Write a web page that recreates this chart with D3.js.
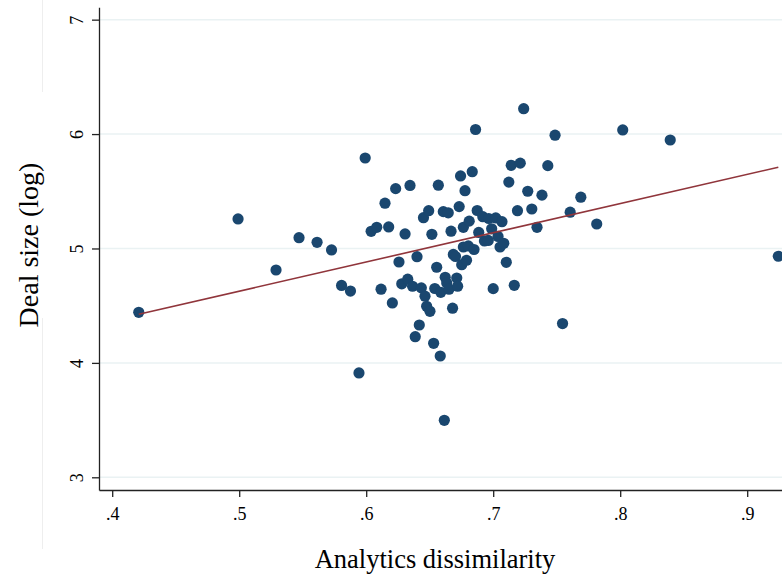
<!DOCTYPE html>
<html>
<head>
<meta charset="utf-8">
<script src="https://cdn.jsdelivr.net/npm/d3@7"></script>
<style>
  html, body { margin: 0; padding: 0; background: #fff; }
  svg { display: block; font-family: "Liberation Serif", "Times New Roman", serif; }
</style>
</head>
<body>
<script>
// ---- data ----
const dissimilarity = [
  0.4209, 0.4991, 0.5290, 0.5471, 0.5613, 0.5727, 0.5806, 0.5876, 0.5943, 0.5992,
  0.6039, 0.6083, 0.6117, 0.6148, 0.6177, 0.6206, 0.6232, 0.6258, 0.6280, 0.6306,
  0.6327, 0.6345, 0.6365, 0.6386, 0.6400, 0.6418, 0.6434, 0.6451, 0.6463, 0.6476,
  0.6492, 0.6502, 0.6517, 0.6531, 0.6540, 0.6555, 0.6568, 0.6583, 0.6587, 0.6607,
  0.6615, 0.6622, 0.6634, 0.6646, 0.6652, 0.6668, 0.6680, 0.6686, 0.6703, 0.6713,
  0.6720, 0.6732, 0.6743, 0.6752, 0.6765, 0.6765, 0.6778, 0.6790, 0.6804, 0.6811,
  0.6835, 0.6849, 0.6861, 0.6874, 0.6886, 0.6918, 0.6931, 0.6961, 0.6965, 0.6988,
  0.7000, 0.7020, 0.7038, 0.7054, 0.7069, 0.7083, 0.7103, 0.7123, 0.7142, 0.7166,
  0.7191, 0.7213, 0.7240, 0.7272, 0.7304, 0.7345, 0.7384, 0.7430, 0.7487, 0.7546,
  0.7606, 0.7690, 0.7815, 0.8020, 0.8394, 0.9245
];
const dealSize = [
  4.442, 5.258, 4.812, 5.094, 5.054, 4.987, 4.677, 4.628, 3.912, 5.791,
  5.150, 5.185, 4.644, 5.396, 5.188, 4.524, 5.523, 4.882, 4.691, 5.127,
  4.732, 5.551, 4.670, 4.229, 4.928, 4.331, 4.656, 5.269, 4.583, 4.495,
  5.330, 4.451, 5.124, 4.171, 4.650, 4.836, 5.553, 4.060, 4.617, 5.322,
  3.498, 4.748, 4.698, 5.312, 4.644, 5.151, 4.478, 4.948, 4.930, 4.742,
  4.670, 5.366, 5.634, 4.858, 5.185, 5.013, 5.505, 4.897, 5.022, 5.239,
  5.671, 4.991, 6.040, 5.332, 5.140, 5.278, 5.066, 5.070, 5.262, 5.172,
  4.649, 5.267, 5.105, 5.013, 5.234, 5.045, 4.879, 5.580, 5.727, 4.678,
  5.330, 5.746, 6.222, 5.500, 5.345, 5.185, 5.466, 5.724, 5.990, 4.344,
  5.317, 5.448, 5.214, 6.036, 5.948, 4.932
];
// fitted line end points
const fitX = [0.4209, 0.9245];
const fitY = [4.425, 5.710];

const xTicks = [0.4, 0.5, 0.6, 0.7, 0.8, 0.9];
const yTicks = [3, 4, 5, 6, 7];
const xTitle = "Analytics dissimilarity";
const yTitle = "Deal size (log)";

// ---- drawing ----
const W = 782, H = 576;
const svg = d3.select("body").append("svg").attr("width", W).attr("height", H);
svg.append("rect").attr("width", W).attr("height", H).attr("fill", "#fff");

const x = d3.scaleLinear().domain([0.3896, 0.93]).range([99, 785.3]);
const y = d3.scaleLinear().domain([2.889, 7.108]).range([490, 7.3]);

// faint frame line at left
svg.append("line").attr("x1", 42.5).attr("x2", 42.5).attr("y1", 0).attr("y2", 92)
  .attr("stroke", "#eeeeee").attr("stroke-width", 1);
svg.append("line").attr("x1", 42.5).attr("x2", 42.5).attr("y1", 318).attr("y2", 549)
  .attr("stroke", "#eeeeee").attr("stroke-width", 1);

// gridlines
svg.append("g").selectAll("line").data(yTicks).join("line")
  .attr("x1", 99).attr("x2", W)
  .attr("y1", d => y(d)).attr("y2", d => y(d))
  .attr("stroke", "#eaf2f3").attr("stroke-width", 1.5);

// axes
const xAxis = svg.append("g").attr("transform", "translate(0,490)")
  .call(d3.axisBottom(x).tickValues(xTicks).tickSize(7).tickSizeOuter(0)
    .tickFormat(d => d3.format(".1f")(d).replace(/^0/, "")));
const yAxis = svg.append("g").attr("transform", "translate(99,0)")
  .call(d3.axisLeft(y).tickValues(yTicks).tickSize(7).tickSizeOuter(0).tickFormat(d3.format("d")));

[xAxis, yAxis].forEach(g => {
  g.select(".domain").attr("stroke", "#222").attr("stroke-width", 1.3);
  g.selectAll(".tick line").attr("stroke", "#222").attr("stroke-width", 1.3);
  g.selectAll(".tick text").attr("fill", "#000").attr("font-size", 18)
    .attr("font-family", "Liberation Serif, serif");
});
xAxis.selectAll(".tick text").attr("y", 17);
yAxis.selectAll(".tick text")
  .attr("transform", "rotate(-90)")
  .attr("x", 0).attr("y", -16).attr("dy", 0)
  .attr("text-anchor", "middle");

// points
const pts = dissimilarity.map((d, i) => ({ x: d, y: dealSize[i] }));
svg.append("g").selectAll("circle").data(pts).join("circle")
  .attr("cx", d => x(d.x)).attr("cy", d => y(d.y)).attr("r", 5.6)
  .attr("fill", "#1a476f");

// fitted line
const line = d3.line().x(d => x(d[0])).y(d => y(d[1]));
svg.append("path").datum(fitX.map((d, i) => [d, fitY[i]]))
  .attr("d", line).attr("fill", "none")
  .attr("stroke", "#90353b").attr("stroke-width", 1.6);

// titles
svg.append("text").attr("x", 435).attr("y", 568).attr("text-anchor", "middle")
  .attr("font-size", 26.5).attr("fill", "#000").text(xTitle);
svg.append("text").attr("transform", "translate(38,245) rotate(-90)")
  .attr("text-anchor", "middle").attr("font-size", 28).attr("fill", "#000").text(yTitle);
</script>
</body>
</html>
